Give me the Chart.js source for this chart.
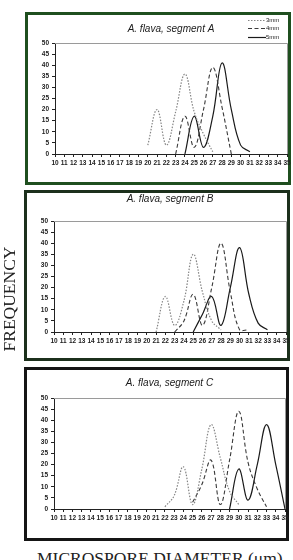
<!DOCTYPE html>
<html><head><meta charset="utf-8">
<script src="https://cdn.jsdelivr.net/npm/chart.js@4/dist/chart.umd.min.js"></script>
<style>
html,body{margin:0;padding:0;background:#fff;width:293px;height:560px;overflow:hidden;}
body{position:relative;}
.panel{position:absolute;box-sizing:border-box;border:3px solid #1f4f1f;background:#fff;}
canvas{position:absolute;left:0;}
#ylab{position:absolute;left:-51px;top:289px;width:120px;height:20px;line-height:20px;text-align:center;
  font-family:"Liberation Serif","Times New Roman",serif;font-size:17.5px;color:#222;transform:rotate(-90deg);white-space:nowrap;}
#xlab{position:absolute;left:37px;top:550px;line-height:17.5px;font-family:"Liberation Serif","Times New Roman",serif;
  font-size:17.5px;color:#222;white-space:nowrap;}
</style></head>
<body>
<div class="panel" style="left:25px;top:12px;width:266px;height:173px;border-color:#1f4f1f"></div>
<div class="panel" style="left:24px;top:190px;width:266px;height:171px;border-color:#1c301c"></div>
<div class="panel" style="left:24px;top:367px;width:265px;height:174px;border-color:#151515"></div>
<canvas id="cA" width="293" height="173" style="top:12px"></canvas>
<canvas id="cB" width="293" height="171" style="top:190px"></canvas>
<canvas id="cC" width="293" height="174" style="top:367px"></canvas>
<div id="ylab">FREQUENCY</div>
<div id="xlab">MICROSPORE DIAMETER (μm)</div>
<script>
// Microspore diameter categories (µm)
const xCats = ['10','11','12','13','14','15','16','17','18','19','20','21','22','23','24','25','26','27','28','29','30','31','32','33','34','35'];
const seriesNames = ['3mm','4mm','5mm'];
const titles = ['A. flava, segment A','A. flava, segment B','A. flava, segment C'];

// Segment A
const segA_3mm = [null,null,null,null,null,null,null,null,null,null, 4,20,4,19,36,19,9,1, null,null,null,null,null,null,null,null];
const segA_4mm = [null,null,null,null,null,null,null,null,null,null,null,null,null, 0,17,3,20,39,21,0, null,null,null,null,null,null];
const segA_5mm = [null,null,null,null,null,null,null,null,null,null,null,null,null,null, 0,17,3,17,41,20,4,1, null,null,null,null];
// Segment B
const segB_3mm = [null,null,null,null,null,null,null,null,null,null,null, 0,16,3,14,35,18,5,1, null,null,null,null,null,null,null];
const segB_4mm = [null,null,null,null,null,null,null,null,null,null,null,null,null, 0,5,17,3,20,40,18,1,1, null,null,null,null];
const segB_5mm = [null,null,null,null,null,null,null,null,null,null,null,null,null,null,null, 0,8,16,3,20,38,17,4,1, null,null];
// Segment C
const segC_3mm = [null,null,null,null,null,null,null,null,null,null,null,null, 1,6,19,2,18,38,23,8,2, null,null,null,null,null];
const segC_4mm = [null,null,null,null,null,null,null,null,null,null,null,null,null,null,null, 3,11,22,2,22,44,21,9,1, null,null];
const segC_5mm = [null,null,null,null,null,null,null,null,null,null,null,null,null,null,null,null,null,null,null, 0,18,4,20,38,20,0];

const styles = [
  {borderColor:'#858585', borderDash:[1.5,1.5], borderWidth:1.2},
  {borderColor:'#3a3a3a', borderDash:[4,2.5], borderWidth:1.1},
  {borderColor:'#1a1a1a', borderDash:[], borderWidth:1.2}
];

const framePlugin = {
  id:'frame',
  beforeDatasetsDraw(chart){
    const a = chart.chartArea, ctx = chart.ctx;
    ctx.save();
    ctx.strokeStyle = '#9a9a9a'; ctx.lineWidth = 1;
    ctx.beginPath();
    ctx.moveTo(a.left, a.top + 0.5); ctx.lineTo(a.right + 0.5, a.top + 0.5); ctx.lineTo(a.right + 0.5, a.bottom);
    ctx.stroke();
    ctx.restore();
  }
};

const miniLegend = {
  id:'miniLegend',
  afterDraw(chart, args, opts){
    if (!opts || !opts.show) return;
    const ctx = chart.ctx;
    ctx.save();
    const ys = [8, 16, 25];
    chart.data.datasets.forEach((ds, i) => {
      ctx.strokeStyle = ds.borderColor; ctx.lineWidth = ds.borderWidth;
      ctx.setLineDash(ds.borderDash || []);
      ctx.beginPath(); ctx.moveTo(248, ys[i] + 0.5); ctx.lineTo(266, ys[i] + 0.5); ctx.stroke();
      ctx.setLineDash([]);
      ctx.fillStyle = '#222'; ctx.font = '6px "Liberation Sans", Arial, sans-serif';
      ctx.textBaseline = 'middle'; ctx.textAlign = 'left';
      ctx.fillText(ds.label, 266, ys[i] + 0.5);
    });
    ctx.restore();
  }
};

function makeChart(id, title, data, lay){
  const tickFont = {family:'"Liberation Sans", Arial, sans-serif', size:6.5, weight:'bold'};
  new Chart(document.getElementById(id), {
    type:'line',
    data:{
      labels:xCats,
      datasets:data.map((d, i) => Object.assign({
        label:seriesNames[i], data:d, pointRadius:0, tension:0.4, fill:false, spanGaps:false
      }, styles[i]))
    },
    options:{
      responsive:false, animation:false, devicePixelRatio:1,
      layout:{padding:{left:lay.padLeft, right:lay.padRight, top:0, bottom:lay.padBottom}},
      plugins:{
        legend:{display:false}, tooltip:{enabled:false},
        title:{display:true, fullSize:false, text:title, color:'#1a1a1a', align:'center',
          font:{family:'"Liberation Sans", Arial, sans-serif', size:10, style:'italic', weight:'normal', lineHeight:1.2},
          padding:{top:lay.titleTop, bottom:lay.titleBottom}},
        miniLegend:{show:lay.legend}
      },
      scales:{
        x:{type:'category', offset:false,
          grid:{display:true, drawOnChartArea:false, drawTicks:true, tickLength:3, color:'#222', lineWidth:1},
          border:{display:true, color:'#222', width:1},
          ticks:{autoSkip:false, maxRotation:0, minRotation:0, padding:2, font:tickFont, color:'#222'},
          afterFit(s){ s.height = 14; }
        },
        y:{min:0, max:50,
          grid:{display:true, drawOnChartArea:false, drawTicks:true, tickLength:3, color:'#222', lineWidth:1},
          border:{display:true, color:'#222', width:1},
          ticks:{stepSize:5, padding:3, font:tickFont, color:'#222'},
          afterFit(s){ s.width = 25; }
        }
      }
    },
    plugins:[framePlugin, miniLegend]
  });
}

makeChart('cA', titles[0], [segA_3mm, segA_4mm, segA_5mm], {padLeft:30, padRight:6, padBottom:17, titleTop:11, titleBottom:8, legend:true});
makeChart('cB', titles[1], [segB_3mm, segB_4mm, segB_5mm], {padLeft:29, padRight:7, padBottom:15, titleTop:3, titleBottom:16, legend:false});
makeChart('cC', titles[2], [segC_3mm, segC_4mm, segC_5mm], {padLeft:29, padRight:8, padBottom:18, titleTop:10, titleBottom:9, legend:false});
</script>
</body></html>
